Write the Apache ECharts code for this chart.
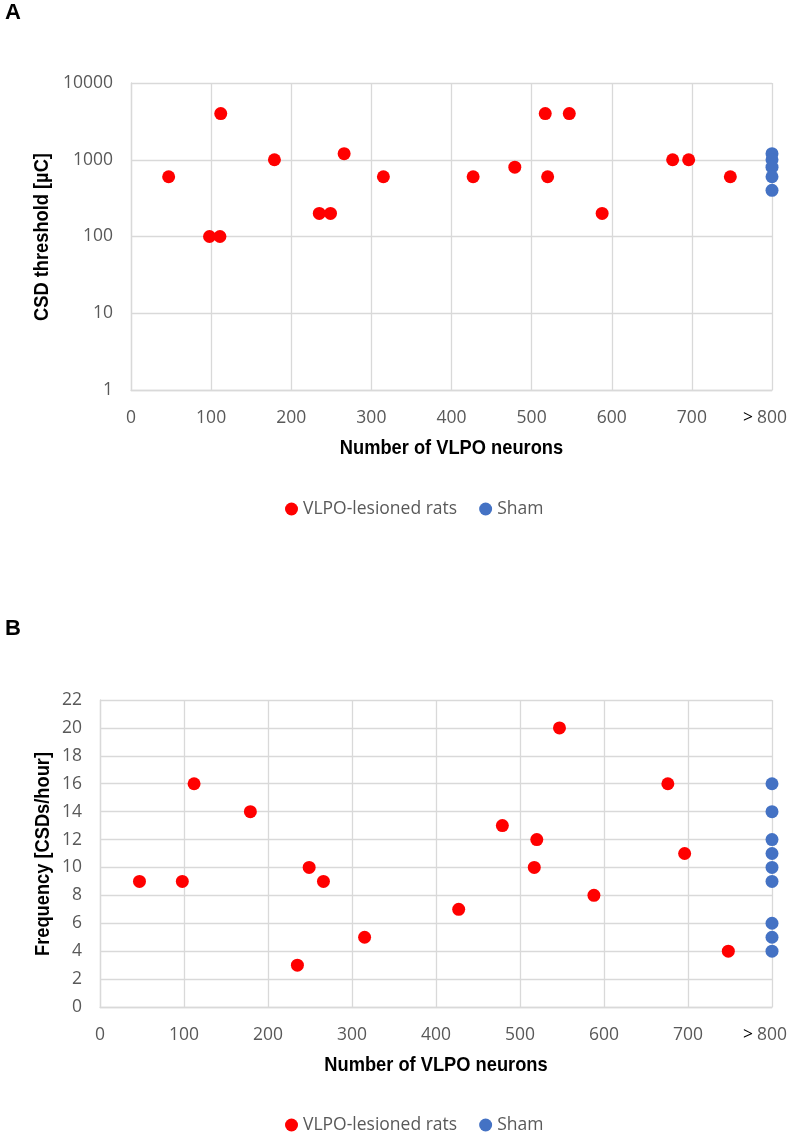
<!DOCTYPE html>
<html>
<head>
<meta charset="utf-8">
<script src="https://cdn.jsdelivr.net/npm/echarts@6/dist/echarts.min.js"></script>
<style>
html,body{margin:0;padding:0;background:#fff;}
#c{width:787px;height:1132px;}
</style>
</head>
<body>
<div id="c"></div>
<script>
// ---- Data ----
var xTicks = [0, 100, 200, 300, 400, 500, 600, 700, 800];
var logTicks = [1, 10, 100, 1000, 10000];
var seriesNames = ['VLPO-lesioned rats', 'Sham'];
var xTitle = 'Number of VLPO neurons';
var yTitleA = 'CSD threshold [µC]';
var yTitleB = 'Frequency [CSDs/hour]';

// Panel A: CSD threshold [µC]
var aLesionX = [47, 98, 111, 112, 179, 235, 249, 266, 315, 427, 479, 517, 520, 547, 588, 676, 696, 748];
var aLesionY = [600, 100, 100, 4000, 1000, 200, 200, 1200, 600, 600, 800, 4000, 600, 4000, 200, 1000, 1000, 600];
var aShamX = [800, 800, 800, 800, 800];
var aShamY = [1200, 1000, 800, 600, 400];

// Panel B: Frequency [CSDs/hour]
var bLesionX = [47, 98, 112, 179, 235, 249, 266, 315, 427, 479, 517, 520, 547, 588, 676, 696, 748];
var bLesionY = [9, 9, 16, 14, 3, 10, 9, 5, 7, 13, 10, 12, 20, 8, 16, 11, 4];
var bShamX = [800, 800, 800, 800, 800, 800, 800, 800, 800];
var bShamY = [16, 14, 12, 11, 10, 9, 6, 5, 4];

function pairs(xs, ys) { return xs.map(function (x, i) { return [x, ys[i]]; }); }

var RED = '#FF0000', BLUE = '#4472C4', GRID = '#d9d9d9', TXT = '#595959';
var tickFont = '"Open Sans", "Liberation Sans", sans-serif';
var titleFont = '"Liberation Sans", Arial, sans-serif';
var NARROW = 0.87;

function xAxis(gridIndex) {
  return {
    gridIndex: gridIndex, type: 'value', min: xTicks[0], max: xTicks[xTicks.length - 1], interval: 100,
    axisLine: { show: true, lineStyle: { color: GRID, width: 1.3 } },
    axisTick: { show: false },
    splitLine: { show: true, lineStyle: { color: GRID, width: 1.3 } },
    axisLabel: {
      margin: 19, fontFamily: tickFont, fontSize: 17.5, color: TXT,
      formatter: function (v) { return v === 800 ? '{gt|>}{n|800}{sp|}' : String(v); },
      rich: {
        gt: { color: '#000', fontFamily: tickFont, fontSize: 17.5, width: 14, align: 'left' },
        n: { color: TXT, fontFamily: tickFont, fontSize: 17.5 },
        sp: { width: 14 }
      }
    }
  };
}

function titleText(text, x, y, rotated) {
  return {
    type: 'text', x: x, y: y,
    rotation: rotated ? Math.PI / 2 : 0,
    scaleX: NARROW, scaleY: 1,
    silent: true,
    style: {
      text: text, fill: '#000',
      font: 'bold 21px ' + titleFont,
      align: 'center', verticalAlign: 'middle'
    }
  };
}

var option = {
  animation: false,
  backgroundColor: '#fff',
  title: [
    { text: 'A', left: 0, top: -3, textStyle: { fontFamily: titleFont, fontWeight: 'bold', fontSize: 22, color: '#000' } },
    { text: 'B', left: 0, top: 613, textStyle: { fontFamily: titleFont, fontWeight: 'bold', fontSize: 22, color: '#000' } }
  ],
  legend: [
    { data: seriesNames, left: 280, top: 495, icon: 'circle', itemWidth: 13, itemHeight: 13, itemGap: 22,
      textStyle: { fontFamily: tickFont, fontSize: 17.5, color: TXT } },
    { data: seriesNames, left: 280, top: 1111, icon: 'circle', itemWidth: 13, itemHeight: 13, itemGap: 22,
      textStyle: { fontFamily: tickFont, fontSize: 17.5, color: TXT } }
  ],
  grid: [
    { left: 131, top: 83, width: 641, height: 307, containLabel: false, outerBoundsMode: 'none' },
    { left: 100, top: 700, width: 672, height: 307, containLabel: false, outerBoundsMode: 'none' }
  ],
  xAxis: [xAxis(0), xAxis(1)],
  yAxis: [
    {
      gridIndex: 0, type: 'log', logBase: 10, min: logTicks[0], max: logTicks[logTicks.length - 1],
      axisLine: { show: true, lineStyle: { color: GRID, width: 1.3 } },
      axisTick: { show: false },
      splitLine: { show: true, lineStyle: { color: GRID, width: 1.3 } },
      axisLabel: { margin: 18, fontFamily: tickFont, fontSize: 17.5, color: TXT, formatter: function (v) { return String(v); } }
    },
    {
      gridIndex: 1, type: 'value', min: 0, max: 22, interval: 2,
      axisLine: { show: true, lineStyle: { color: GRID, width: 1.3 } },
      axisTick: { show: false },
      splitLine: { show: true, lineStyle: { color: GRID, width: 1.3 } },
      axisLabel: { margin: 18, fontFamily: tickFont, fontSize: 17.5, color: TXT }
    }
  ],
  graphic: [
    titleText(xTitle, 451.5, 448, false),
    titleText(xTitle, 436, 1065, false),
    titleText(yTitleA, 42, 237, true),
    titleText(yTitleB, 43, 854, true)
  ],
  series: [
    { name: seriesNames[0], type: 'scatter', xAxisIndex: 0, yAxisIndex: 0, symbolSize: 13, itemStyle: { color: RED, opacity: 1 }, data: pairs(aLesionX, aLesionY) },
    { name: seriesNames[1], type: 'scatter', xAxisIndex: 0, yAxisIndex: 0, symbolSize: 13, itemStyle: { color: BLUE, opacity: 1 }, data: pairs(aShamX, aShamY) },
    { name: seriesNames[0], type: 'scatter', xAxisIndex: 1, yAxisIndex: 1, symbolSize: 13, itemStyle: { color: RED, opacity: 1 }, data: pairs(bLesionX, bLesionY) },
    { name: seriesNames[1], type: 'scatter', xAxisIndex: 1, yAxisIndex: 1, symbolSize: 13, itemStyle: { color: BLUE, opacity: 1 }, data: pairs(bShamX, bShamY) }
  ]
};

var chart = echarts.init(document.getElementById('c'), null, { renderer: 'canvas' });
chart.setOption(option);
</script>
</body>
</html>
